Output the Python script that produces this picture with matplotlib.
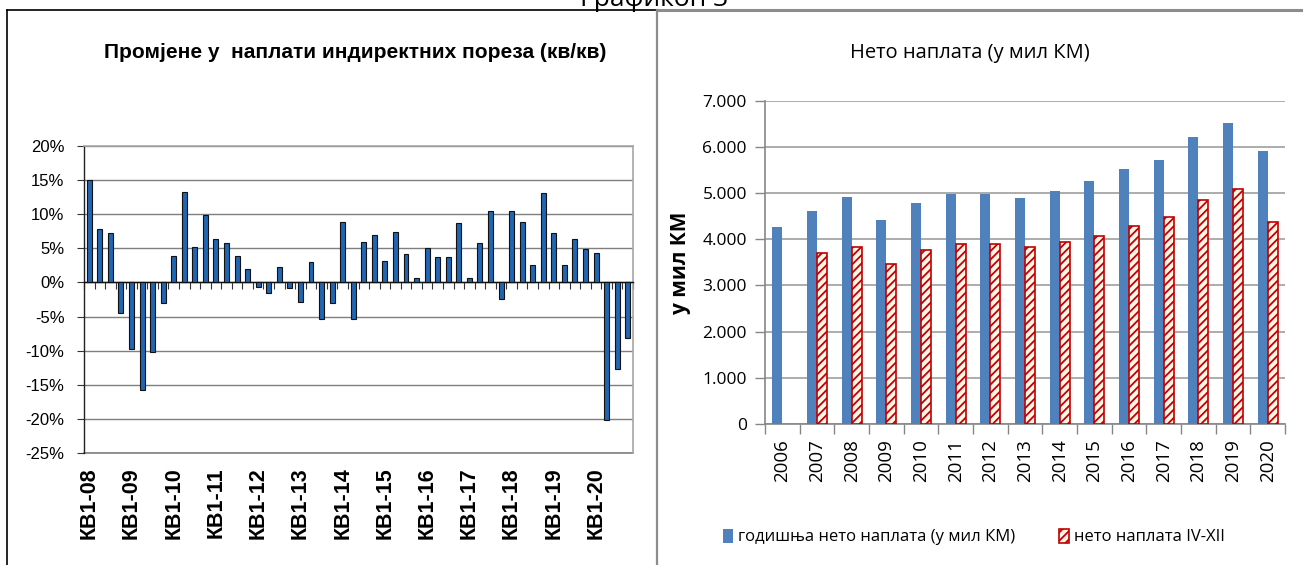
import matplotlib
matplotlib.use('Agg')
import matplotlib.pyplot as plt
from matplotlib.lines import Line2D
from matplotlib.patches import Patch
from matplotlib.ticker import FuncFormatter
import numpy as np

# ---------------- data ----------------
quarter_years = ['08', '09', '10', '11', '12', '13', '14', '15', '16', '17', '18', '19', '20']
qoq_change = [15.0, 7.8, 7.3, -4.5, -9.7, -15.8, -10.2, -3.0, 3.9, 13.2, 5.2, 9.9,
              6.3, 5.8, 3.9, 2.0, -0.7, -1.6, 2.3, -0.8, -2.8, 3.0, -5.3, -3.0,
              8.9, -5.3, 6.0, 6.9, 3.2, 7.4, 4.2, 0.6, 5.1, 3.7, 3.7, 8.7,
              0.6, 5.8, 10.5, -2.4, 10.5, 8.8, 2.6, 13.1, 7.2, 2.5, 6.3, 4.9,
              4.3, -20.1, -12.7, -8.1]
left_yticks = [-25, -20, -15, -10, -5, 0, 5, 10, 15, 20]

years = ['2006', '2007', '2008', '2009', '2010', '2011', '2012', '2013',
         '2014', '2015', '2016', '2017', '2018', '2019', '2020']
annual_net = [4257, 4610, 4913, 4416, 4776, 4990, 4990, 4885, 5050, 5253,
              5527, 5714, 6205, 6522, 5909]
net_apr_dec = [np.nan, 3694, 3824, 3456, 3773, 3903, 3903, 3824, 3932, 4076,
               4293, 4488, 4848, 5094, 4372]
right_yticks = [0, 1000, 2000, 3000, 4000, 5000, 6000, 7000]

title_top = 'Графикон 3'
title_left = 'Промјене у  наплати индиректних пореза (кв/кв)'
title_right = 'Нето наплата (у мил КМ)'
ylabel_right = 'у мил КМ'
legend_labels = ['годишња нето наплата (у мил КМ)', 'нето наплата IV-XII']

# ---------------- style ----------------
W, H = 1303, 565
ARIAL = ['Liberation Sans', 'DejaVu Sans']
CAL = ['Open Sans', 'DejaVu Sans']

fig = plt.figure(figsize=(W / 100, H / 100), dpi=100)
fig.patch.set_facecolor('white')

# panel frames
fig.add_artist(Line2D([7 / W, 7 / W], [0, 1 - 10 / H], color='black', lw=1.2))
fig.add_artist(Line2D([7 / W, 656 / W], [1 - 10 / H, 1 - 10 / H], color='black', lw=1.2))
fig.add_artist(Line2D([657 / W, 657 / W], [0, 1 - 10 / H], color='#8c8c8c', lw=1.6))
fig.add_artist(Line2D([657 / W, 1.0], [1 - 10 / H, 1 - 10 / H], color='#8c8c8c', lw=2.2))

# top caption, cut off at the top edge as in the source image
fig.text(654 / W, 1 - 6 / H, title_top, ha='center', va='baseline',
         fontsize=19, family=CAL, color='black')

# ---------------- left chart ----------------
ax1 = fig.add_axes([84 / W, 1 - 453 / H, 549 / W, 307 / H])
categories = [f'КВ{q}-{y}' for y in quarter_years for q in range(1, 5)]
x = np.arange(len(qoq_change))
ax1.bar(x, qoq_change, width=0.47, color='#1f66b3', edgecolor='#111111',
        linewidth=0.8, zorder=3)
ax1.set_xlim(-0.5, len(qoq_change) - 0.5)
ax1.set_ylim(-25, 20)
ax1.set_yticks(left_yticks)
ax1.yaxis.set_major_formatter(FuncFormatter(lambda v, p: f'{v:.0f}%'))
ax1.grid(axis='y', color='#7f7f7f', lw=1.0, zorder=0)
ax1.set_axisbelow(True)
for s in ['top', 'right']:
    ax1.spines[s].set_color('#a6a6a6')
    ax1.spines[s].set_linewidth(1.2)
ax1.spines['left'].set_color('#222222')
ax1.spines['left'].set_linewidth(1.0)
ax1.spines['bottom'].set_position(('data', 0))
ax1.spines['bottom'].set_color('#111111')
ax1.spines['bottom'].set_linewidth(1.0)
ax1.set_xticks(np.arange(-0.5, len(qoq_change), 1))
ax1.set_xticklabels([])
ax1.tick_params(axis='x', direction='out', length=5, width=0.8, color='#333333')
ax1.tick_params(axis='y', direction='out', length=5, width=0.8, color='#333333',
                pad=9, labelsize=12)
for lbl in ax1.get_yticklabels():
    lbl.set_family(ARIAL)

sec = ax1.secondary_xaxis(0)
sec.set_xticks(x[::4], labels=[categories[i] for i in x[::4]], rotation=90,
               fontsize=15.5, fontweight='bold', family=ARIAL)
sec.tick_params(length=0, pad=10)
sec.spines['bottom'].set_color('#7f7f7f')
sec.spines['bottom'].set_linewidth(1.2)

fig.text(355 / W, 1 - 53 / H, title_left, ha='center', va='center',
         fontsize=15, fontweight='bold', family=ARIAL)

# ---------------- right chart ----------------
ax2 = fig.add_axes([765 / W, 1 - 424 / H, 520 / W, 323.3 / H])
xx = np.arange(len(years))
blue = '#4f81bd'
red = '#c00000'
cream = '#fff6e8'
plt.rcParams['hatch.linewidth'] = 1.3
ax2.bar(xx - 0.145, annual_net, width=0.29, color=blue, zorder=3)
ax2.bar(xx + 0.145, net_apr_dec, width=0.29, facecolor=cream, edgecolor=red,
        hatch='////', linewidth=1.2, zorder=3)
ax2.set_xlim(-0.5, len(years) - 0.5)
ax2.set_ylim(0, 7000)
ax2.set_yticks(right_yticks)
ax2.yaxis.set_major_formatter(FuncFormatter(lambda v, p: f'{int(v):,}'.replace(',', '.')))
ax2.grid(axis='y', color='#a6a6a6', lw=1.3, zorder=0)
ax2.set_axisbelow(True)
for s in ['top', 'right']:
    ax2.spines[s].set_visible(False)
for s in ['left', 'bottom']:
    ax2.spines[s].set_color('#868686')
    ax2.spines[s].set_linewidth(1.2)
ax2.set_xticks(np.arange(-0.5, len(years), 1))
ax2.set_xticklabels([])
ax2.set_xticks(xx, labels=years, minor=True, rotation=90, fontsize=13.5, family=CAL)
ax2.tick_params(axis='x', which='major', direction='out', length=7, width=1, color='#868686')
ax2.tick_params(axis='x', which='minor', length=0, pad=11)
ax2.tick_params(axis='y', direction='out', length=7, width=1, color='#868686',
                pad=6, labelsize=12.5)
for lbl in ax2.get_yticklabels():
    lbl.set_family(CAL)
ax2.set_ylabel(ylabel_right, fontsize=15, fontweight='bold', family=CAL)
ax2.yaxis.set_label_coords((691 - 765) / 520, 0.5)

fig.text(970 / W, 1 - 53 / H, title_right, ha='center', va='center',
         fontsize=14.5, family=CAL)

handles = [Patch(facecolor=blue, label=legend_labels[0]),
           Patch(facecolor=cream, edgecolor=red, hatch='////', linewidth=1.2,
                 label=legend_labels[1])]
fig.legend(handles=handles, loc='center', bbox_to_anchor=(974 / W, 1 - 537 / H),
           ncol=2, frameon=False, prop={'family': CAL, 'size': 12},
           handlelength=0.6, handleheight=0.9, handletextpad=0.3, columnspacing=2.6)

fig.savefig('out.png', dpi=100, facecolor='white')
